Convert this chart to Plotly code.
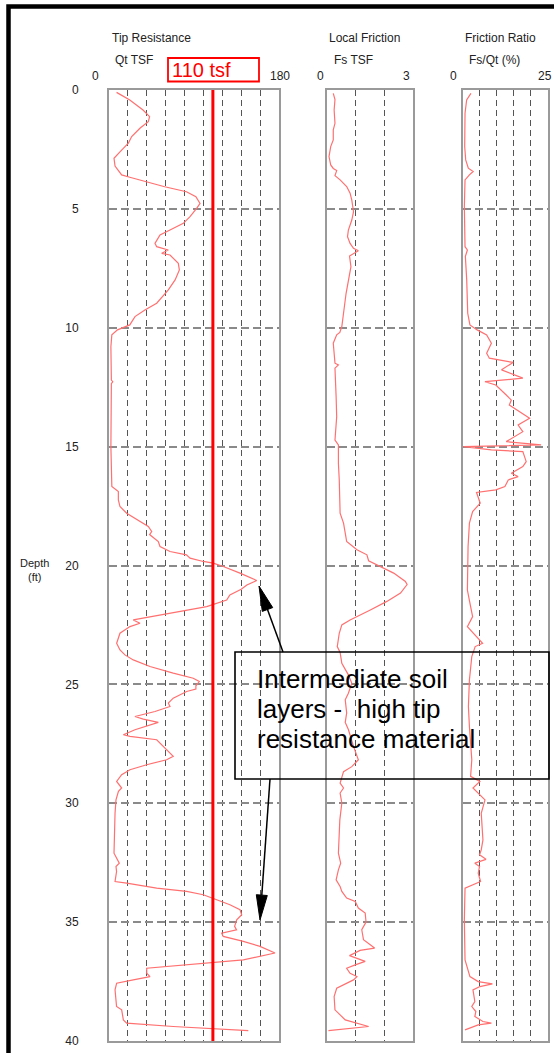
import plotly.graph_objects as go

# ---------------- data ----------------
qt_depth = [0.1, 0.42, 0.84, 1.12, 1.33, 1.6, 1.96, 2.24, 2.6, 2.87, 3.2, 3.57, 3.67, 4.07, 4.28, 4.49,
            4.77, 4.98, 5.33, 5.61, 5.89, 6.1, 6.45, 6.59, 6.73, 6.87, 6.94, 7.29, 7.57, 7.99, 8.41, 8.97,
            9.25, 9.53, 9.88, 10.09, 10.3, 10.8, 12.2, 12.27, 12.35, 15.0, 16.68, 16.89, 17.24, 17.52,
            17.8, 18.15, 18.36, 18.57, 18.7, 18.99, 19.2, 19.41, 19.55, 19.69, 19.83, 19.9, 20.04, 20.32,
            20.63, 20.82, 21.0, 21.24, 21.45, 21.73, 21.94, 22.15, 22.29, 22.43, 22.57, 22.85, 23.27,
            23.55, 23.76, 23.97, 24.25, 24.53, 24.74, 24.88, 25.06, 25.2, 25.3, 25.58, 25.79, 25.93,
            26.14, 26.35, 26.46, 26.6, 26.77, 26.91, 27.12, 27.19, 27.33, 27.61, 27.82, 28.03, 28.17,
            28.38, 28.59, 28.8, 29.08, 29.36, 29.5, 29.86, 30.42, 31.5, 32.1, 32.52, 32.66, 32.87, 33.29,
            33.36, 33.57, 33.71, 33.85, 34.06, 34.27, 34.48, 34.69, 34.9, 35.18, 35.32, 35.46, 35.6,
            35.81, 36.02, 36.3, 36.59, 36.7, 36.84, 36.94, 37.15, 37.29, 37.43, 37.57, 37.85, 38.55,
            38.69, 39.11, 39.25, 39.39, 39.56]
qt_tsf = [8, 22, 36, 43, 41.6, 33, 24, 20.5, 11.6, 5.3, 6.4, 13.4, 22, 59, 82, 92,
          96.4, 92.8, 85.8, 78.7, 64.6, 54, 48.7, 50.5, 62.8, 55.8, 64.6, 73.4, 74.5, 70, 62.8, 50.5,
          38, 27.5, 22, 9, 3, 2, 2.5, 4, 2.5, 2, 3, 9.9, 9.9, 11.6,
          18.7, 32.8, 41.6, 45.2, 43, 52.2, 54, 64.6, 82, 85.8, 99.8, 110.4, 121, 138.7,
          156.4, 146, 140, 128, 124.6, 103.4, 75, 47, 25.7, 32.8, 22.2, 11.6, 8.1,
          11.6, 16.9, 25.7, 43.4, 68, 89.2, 95.6, 92, 92, 82.2, 68, 62.8, 64.6,
          48.7, 27.5, 36.3, 52.2, 38.1, 27.5, 15.2, 22.2, 50.5, 57.5, 62.8, 68, 61,
          39.9, 22.2, 13.4, 8.1, 13.4, 10, 7.4, 6.4, 5.3, 5.3, 10.9, 7.4, 8, 6.4,
          18.7, 50.5, 82.2, 99.8, 114, 128, 138.7, 140.5, 135.2, 133, 135, 119.3, 121,
          142.2, 159.9, 175.8, 142.2, 110.4, 71.7, 39.9, 40, 43.4, 25.7, 8.1, 6.4, 8,
          13.4, 15.2, 18.7, 68, 147.5]

fs_depth = [0.14, 0.4, 0.84, 1.4, 1.68, 2.1, 2.38, 2.8, 3.15, 3.3, 3.39, 3.6, 3.78, 4.06, 4.34, 4.63,
            5.12, 5.47, 5.89, 6.17, 6.45, 6.66, 6.76, 6.84, 6.98, 7.43, 7.99, 8.55, 9.39, 9.95, 10.2,
            10.3, 10.65, 11.2, 11.49, 11.56, 11.7, 12.9, 13.74, 14.72, 14.93, 15.7, 16.4, 17.8, 18.22,
            18.64, 18.99, 19.34, 19.55, 19.8, 19.97, 20.32, 20.67, 20.8, 21.16, 21.51, 21.87, 22.29,
            22.5, 22.85, 23.41, 23.66, 24.11, 24.6, 24.95, 25.37, 25.65, 26.2, 26.6, 26.9, 27.61, 28.17,
            28.46, 28.67, 29.15, 29.36, 29.57, 29.99, 30.7, 32.1, 32.52, 32.8, 33.22, 33.5, 33.71, 33.99,
            34.13, 34.41, 34.62, 35.0, 35.32, 35.74, 36.09, 36.19, 36.41, 36.65, 36.8, 36.94, 37.15,
            37.29, 37.43, 37.78, 38.13, 38.69, 38.9, 39.11, 39.39, 39.56]
fs_tsf = [0.22, 0.28, 0.25, 0.28, 0.22, 0.22, 0.13, 0.07, 0.13, 0.22, 0.34, 0.28, 0.46, 0.69, 0.81, 0.87,
          0.93, 0.87, 0.75, 0.72, 0.81, 0.93, 1.1, 0.99, 0.79, 0.84, 0.75, 0.67, 0.58, 0.52, 0.45,
          0.34, 0.22, 0.25, 0.28, 0.4, 0.28, 0.32, 0.34, 0.28, 0.4, 0.4, 0.43, 0.46, 0.58,
          0.64, 0.69, 1.05, 1.4, 1.46, 1.75, 2.34, 2.75, 2.81, 2.58, 2.1, 1.52, 0.81,
          0.52, 0.43, 0.36, 0.46, 0.52, 0.75, 0.87, 0.75, 0.64, 0.69, 0.64, 0.75, 0.93, 1.1,
          0.87, 0.58, 0.46, 0.58, 0.46, 0.52, 0.45, 0.4, 0.48, 0.4, 0.32, 0.46, 0.52, 0.69,
          0.99, 1.1, 1.34, 1.37, 1.22, 1.28, 1.67, 1.16, 0.79, 1.34, 0.99, 0.69, 0.81,
          1.05, 0.93, 0.34, 0.25, 0.28, 0.46, 0.64, 1.46, 0.05]

fr_depth = [0.14, 0.42, 0.98, 2.38, 2.94, 3.29, 3.43, 3.57, 3.78, 4.9, 6.59, 6.73, 7.0, 7.99, 9.39, 9.88,
            10.09, 10.3, 10.65, 11.07, 11.28, 11.46, 11.77, 12.12, 12.27, 12.41, 12.83, 13.04, 13.25,
            13.53, 13.81, 14.09, 14.37, 14.79, 14.93, 15.0, 15.14, 15.21, 15.63, 15.84, 16.12, 16.26,
            16.4, 16.68, 16.82, 16.93, 17.38, 17.73, 18.22, 19.2, 21.03, 21.73, 22.15, 22.57, 22.99,
            23.27, 23.41, 23.83, 24.81, 25.93, 26.77, 28.17, 28.87, 29.08, 29.36, 29.57, 29.86, 30.42,
            31.54, 31.96, 32.17, 32.36, 32.52, 32.66, 32.94, 33.29, 33.43, 33.57, 34.9, 36.59, 37.29,
            37.5, 37.6, 37.71, 37.85, 38.34, 38.55, 38.76, 38.97, 39.18, 39.25, 39.32, 39.53]
fr_pct = [2.35, 1.08, 0.6, 0.5, 0.8, 1.57, 3.0, 1.9, 0.6, 0.4, 0.6, 1.3, 0.7, 1.1, 1.4, 2.05,
          4.2, 7.0, 8.4, 7.0, 7.8, 14.8, 11.4, 17.7, 6.5, 9.7, 12.8, 14.3, 13.7,
          16.8, 19.7, 16.3, 17.7, 12.8, 23.1, 0.1, 8.4, 17.7, 18.7, 17.7, 14.3, 16.3,
          13.4, 12.4, 9.7, 4.0, 5.1, 2.85, 1.9, 1.5, 1.3, 2.25, 2.85, 1.3, 4.0,
          5.8, 3.6, 2.6, 1.9, 1.6, 1.9, 2.6, 2.25, 5.0, 2.95, 4.5, 6.5, 5.4,
          5.9, 5.4, 4.9, 6.8, 3.5, 4.9, 4.5, 5.2, 2.95, 0.6, 0.4, 0.6, 2.05,
          4.5, 8.7, 5.0, 2.95, 3.5, 2.6, 3.8, 3.5, 5.9, 8.4, 4.5, 0.6]

design_qt = 110          # red reference line, tsf
depth_ticks = [0, 5, 10, 15, 20, 25, 30, 35, 40]

# ---------------- layout helpers (pixels -> paper) ----------------
W, H = 554, 1053
def px(x):
    return x / W
def py(y):
    return 1 - y / H

TOP, BOT = 90, 1041
CURVE = dict(color="#ff7070", width=1.2)
FONT = "Liberation Sans, Arial, sans-serif"

fig = go.Figure()
fig.add_trace(go.Scatter(x=qt_tsf, y=qt_depth, mode="lines", line=CURVE, xaxis="x", yaxis="y"))
fig.add_trace(go.Scatter(x=[design_qt, design_qt], y=[0, 40], mode="lines",
                         line=dict(color="#ff0000", width=3), xaxis="x", yaxis="y"))
fig.add_trace(go.Scatter(x=fs_tsf, y=fs_depth, mode="lines", line=CURVE, xaxis="x2", yaxis="y2"))
fig.add_trace(go.Scatter(x=fr_pct, y=fr_depth, mode="lines", line=CURVE, xaxis="x3", yaxis="y3"))

def xax(dom, rng, dt, anchor):
    return dict(domain=[px(dom[0]), px(dom[1])], range=rng, dtick=dt, tick0=0, anchor=anchor,
                showgrid=True, gridcolor="#555555", griddash="6px,4px", gridwidth=1,
                showticklabels=False, ticks="", showline=True, mirror=True, automargin=False,
                linecolor="#9a9a9a", linewidth=2, zeroline=False, fixedrange=True)

def yax(anchor, labels, match=None):
    d = dict(domain=[py(BOT), py(TOP)], range=[40, 0], tickvals=depth_ticks, anchor=anchor,
             showgrid=True, gridcolor="#8a8a8a", griddash="8px,4px", gridwidth=1.5,
             showline=True, mirror=True, linecolor="#9a9a9a", linewidth=2, zeroline=False,
             ticks="", showticklabels=labels, fixedrange=True, automargin=False,
             tickfont=dict(family=FONT, size=12, color="#222222"))
    if labels:
        d["ticklabelstandoff"] = 26
    if match:
        d["matches"] = match
    return d

fig.update_layout(
    width=W, height=H, autosize=False, margin=dict(l=0, r=0, t=0, b=0, pad=0),
    paper_bgcolor="white", plot_bgcolor="white", showlegend=False,
    font=dict(family=FONT, color="#222222"),
    xaxis=xax((109, 279), [0, 180], 20, "y"),
    xaxis2=xax((327, 412.5), [0, 3], 1, "y2"),
    xaxis3=xax((463, 547.5), [0, 25], 5, "y3"),
    yaxis=yax("x", True),
    yaxis2=yax("x2", False, "y"),
    yaxis3=yax("x3", False, "y"),
)

ann = []
def label(text, x, y, size=12, xanchor="center", color="#222222"):
    ann.append(dict(text=text, x=px(x), y=py(y), xref="paper", yref="paper", showarrow=False,
                    xanchor=xanchor, yanchor="middle", font=dict(family=FONT, size=size, color=color)))

label("Tip Resistance", 110, 38, xanchor="left")
label("Qt TSF", 113, 60, xanchor="left")
label("Local Friction", 327, 38, xanchor="left")
label("Fs TSF", 332, 60, xanchor="left")
label("Friction Ratio", 463, 38, xanchor="left")
label("Fs/Qt (%)", 467, 60, xanchor="left")
label("0", 95.5, 76)
label("180", 280, 76)
label("0", 320.5, 76)
label("3", 406, 76)
label("0", 453, 76)
label("25", 545, 76)
label("Depth", 34, 563, size=11)
label("(ft)", 34, 577, size=11)
label("110 tsf", 170, 70, size=20, xanchor="left", color="#ff0000")
label("Intermediate soil", 255, 679, size=26, xanchor="left", color="#000000")
label("layers -  high tip", 255, 709, size=26, xanchor="left", color="#000000")
label("resistance material", 255, 739, size=26, xanchor="left", color="#000000")

shapes = []
def rect(x0, y0, x1, y1, color, width):
    shapes.append(dict(type="rect", xref="paper", yref="paper", x0=px(x0), y0=py(y0), x1=px(x1), y1=py(y1),
                       line=dict(color=color, width=width), fillcolor="rgba(0,0,0,0)", layer="above"))
def seg(x0, y0, x1, y1, width=1.5):
    shapes.append(dict(type="line", xref="paper", yref="paper", x0=px(x0), y0=py(y0), x1=px(x1), y1=py(y1),
                       line=dict(color="black", width=width), layer="above"))
def tri(pts):
    path = "M " + " L ".join(f"{px(a)},{py(b)}" for a, b in pts) + " Z"
    shapes.append(dict(type="path", xref="paper", yref="paper", path=path,
                       fillcolor="black", line=dict(color="black", width=1), layer="above"))

# outer black frame
rect(8.5, 6.5, 640, 1120, "black", 4.5)
# 110 tsf box
rect(168, 58, 259, 81.5, "#ff0000", 1.8)
# annotation box
rect(235, 652, 549, 779, "black", 1.6)
# arrows
seg(283, 652, 267.5, 609.5)
tri([(259, 586), (272.7, 607.6), (262.3, 611.4)])
seg(270, 779, 261.8, 895.1)
tri([(260, 920), (267.3, 895.5), (256.3, 894.7)])

fig.update_layout(annotations=ann, shapes=shapes)
fig.write_html("out.html")
